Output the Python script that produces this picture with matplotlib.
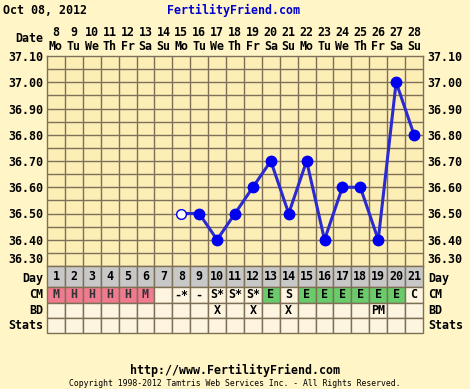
import numpy as np
import matplotlib
matplotlib.use("Agg")
import matplotlib.pyplot as plt
from matplotlib.patches import Rectangle
from matplotlib.transforms import blended_transform_factory

# ---------------- data ----------------
dates = list(range(8, 29))
weekdays = ["Mo", "Tu", "We", "Th", "Fr", "Sa", "Su"] * 3
cycle_days = list(range(1, 22))
temps = [np.nan] * 7 + [36.50, 36.50, 36.40, 36.50, 36.60, 36.70, 36.50,
                        36.70, 36.40, 36.60, 36.60, 36.40, 37.00, 36.80]
open_days = [8]  # discarded / open-circle reading
cm = ["M", "H", "H", "H", "H", "M", "", "-*", "-", "S*", "S*", "S*", "E", "S",
      "E", "E", "E", "E", "E", "E", "C"]
bd = ["", "", "", "", "", "", "", "", "", "X", "", "X", "", "X",
      "", "", "", "", "PM", "", ""]
temp_ticks = [37.10, 37.00, 36.90, 36.80, 36.70, 36.60, 36.50, 36.40, 36.30]
row_names = ["Day", "CM", "BD", "Stats"]

# ---------------- style ----------------
BG = "#fff5c6"
PLOT_BG = "#fdeeb6"
CELL_BG = "#fdf5e0"
GRID = "#7d7056"
DAY_BG = "#c8c8c8"
PINK = "#f07a8e"
GREEN = "#6acb6a"
LINE = "#2a2ad0"
DOT = "#0000f0"
FONT = "DejaVu Sans Mono"
FS = 8.4

W, H = 470, 389
fig = plt.figure(figsize=(W / 100, H / 100), dpi=100, facecolor=BG)

def fx(px):
    return px / W

def fy(py):
    return 1 - py / H

left, right = 47, 423
top, bottom = 56, 266
ax = fig.add_axes([fx(left), fy(bottom), fx(right - left), fy(top) - fy(bottom)])
ax.set_facecolor(PLOT_BG)
ax.set_xlim(0.5, 21.5)
ax.set_ylim(36.30, 37.10)
for s in ax.spines.values():
    s.set_color(GRID)
    s.set_linewidth(1)
for x in np.arange(1.5, 21.5, 1):
    ax.axvline(x, color=GRID, lw=1, zorder=1)
for y in np.arange(36.35, 37.10, 0.05):
    ax.axhline(y, color=GRID, lw=1, zorder=1)

ax.set_xticks([])
ax.set_yticks(temp_ticks)
ax.set_yticklabels([f"{t:.2f}" for t in temp_ticks])
ax.tick_params(axis="y", length=0, pad=3, labelright=True, labelsize=FS)
for lab in ax.get_yticklabels() + ax.yaxis.get_ticklabels(which="major", minor=False):
    lab.set_fontfamily(FONT)
    lab.set_fontweight("bold")
for t in ax.yaxis.get_major_ticks():
    if abs(t.get_loc() - 36.30) < 1e-6:
        t.label1.set_va("bottom")
        t.label2.set_va("bottom")
    t.label2.set_fontfamily(FONT)
    t.label2.set_fontweight("bold")

# temperature curve
xs = np.array(cycle_days, dtype=float)
ys = np.array(temps)
ax.plot(xs, ys, color=LINE, lw=2.2, zorder=3)
filled = [d not in open_days for d in cycle_days]
ax.plot(xs[filled], ys[filled], "o", color=DOT, ms=7.5, zorder=4)
opn = [d in open_days for d in cycle_days]
ax.plot(xs[opn], ys[opn], "o", mfc="white", mec=DOT, mew=1, ms=7, zorder=4)

# date header
tr = blended_transform_factory(ax.transData, fig.transFigure)
for d, dt, wd in zip(cycle_days, dates, weekdays):
    ax.text(d, fy(33), str(dt), transform=tr, ha="center", va="center",
            fontsize=FS, fontfamily=FONT, fontweight="bold")
    ax.text(d, fy(46), wd, transform=tr, ha="center", va="center",
            fontsize=FS, fontfamily=FONT, fontweight="bold")
fig.text(fx(43), fy(39), "Date", ha="right", va="center",
         fontsize=FS, fontfamily=FONT, fontweight="bold")

# ---------------- table ----------------
rows = [266, 287, 302.5, 318, 333]
tax = fig.add_axes([fx(left), fy(rows[-1]), fx(right - left), fy(rows[0]) - fy(rows[-1])])
tax.set_xlim(0.5, 21.5)
tax.set_ylim(rows[-1], rows[0])
tax.axis("off")

def cell(d, r, color, text="", tcolor="black"):
    y0, y1 = rows[r], rows[r + 1]
    tax.add_patch(Rectangle((d - 0.5, y0), 1, y1 - y0, facecolor=color,
                            edgecolor=GRID, lw=1, clip_on=False))
    if text:
        tax.text(d, (y0 + y1) / 2, text, ha="center", va="center",
                 fontsize=FS, fontfamily=FONT, fontweight="bold", color=tcolor)

for i, d in enumerate(cycle_days):
    cell(d, 0, DAY_BG, str(d))
    c = PINK if cm[i] in ("M", "H") else GREEN if cm[i] == "E" else CELL_BG
    cell(d, 1, c, cm[i], "#333333" if cm[i] in ("M", "H") else "black")
    cell(d, 2, CELL_BG, bd[i])
    cell(d, 3, CELL_BG)

for r, name in enumerate(row_names):
    yc = (rows[r] + rows[r + 1]) / 2 + (2 if r == 0 else 0)
    fig.text(fx(43), fy(yc), name, ha="right", va="center",
             fontsize=FS, fontfamily=FONT, fontweight="bold")
    fig.text(fx(428), fy(yc), name, ha="left", va="center",
             fontsize=FS, fontfamily=FONT, fontweight="bold")

# ---------------- titles ----------------
fig.text(fx(3), fy(10), "Oct 08, 2012", ha="left", va="center",
         fontsize=FS, fontfamily=FONT, fontweight="bold")
fig.text(fx(234), fy(10), "FertilityFriend.com", ha="center", va="center",
         fontsize=FS, fontfamily=FONT, fontweight="bold", color="#0000cc")
fig.text(fx(235), fy(370), "http://www.FertilityFriend.com", ha="center", va="center",
         fontsize=FS, fontfamily=FONT, fontweight="bold")
fig.text(fx(235), fy(383), "Copyright 1998-2012 Tamtris Web Services Inc. - All Rights Reserved.",
         ha="center", va="center", fontsize=5.9, fontfamily=FONT)

fig.savefig("out.png", dpi=100, facecolor=BG)
